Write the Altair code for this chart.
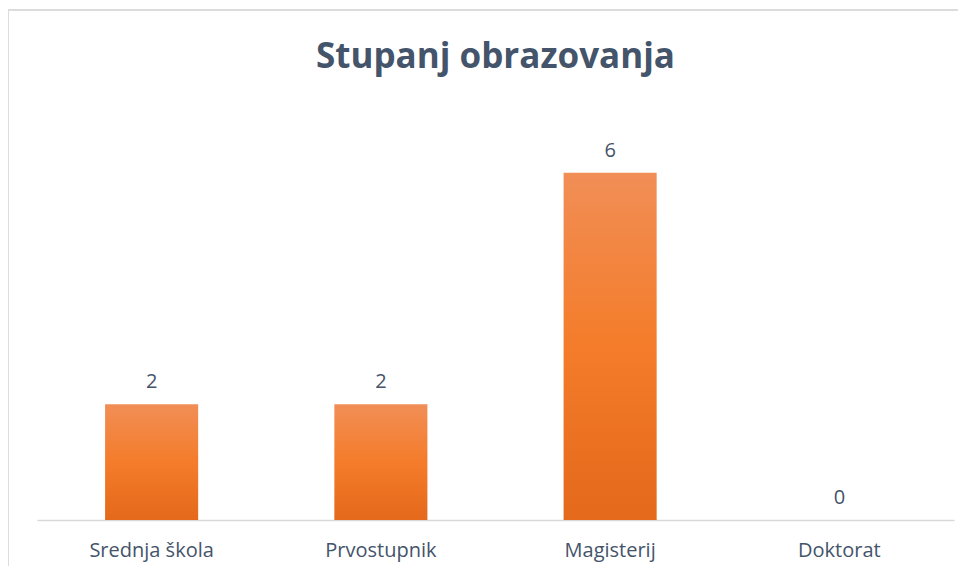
import altair as alt
import pandas as pd

categories = ["Srednja škola", "Prvostupnik", "Magisterij", "Doktorat"]
values = [2, 2, 6, 0]
title_text = ["Stupanj obrazovanja"]

df = pd.DataFrame({"kategorija": categories, "broj": values})
tdf = pd.DataFrame({"t": title_text})

FONT = "Open Sans"
TXT = "#44546A"

gradient = alt.LinearGradient(
    gradient="linear", x1=0, y1=0, x2=0, y2=1,
    stops=[
        alt.GradientStop(color="#F18E56", offset=0),
        alt.GradientStop(color="#F47C2A", offset=0.5),
        alt.GradientStop(color="#E4691B", offset=1),
    ],
)

x = alt.X("kategorija:N", sort=categories, title=None,
          scale=alt.Scale(paddingInner=0.594, paddingOuter=0.297),
          axis=alt.Axis(labelAngle=0, ticks=False, domainColor="#D9D9D9", domainWidth=1.5,
                        labelFont=FONT, labelFontSize=20, labelColor=TXT, labelPadding=20))
y = alt.Y("broj:Q", title=None, scale=alt.Scale(domain=[0, 7]), axis=None)

bars = alt.Chart(df).mark_bar(color=gradient).encode(x=x, y=y)
labels = alt.Chart(df).mark_text(font=FONT, fontSize=20, color=TXT, baseline="bottom", dy=-12).encode(
    x=alt.X("kategorija:N", sort=categories), y="broj:Q", text="broj:Q")

title = alt.Chart(tdf).mark_text(font=FONT, fontSize=35, fontWeight="bold", color=TXT,
                                 baseline="alphabetic", align="center").encode(
    x=alt.value(458.5), y=alt.value(-47), text="t:N")

border_top = alt.Chart(df).mark_rule(color="#D9D9D9", strokeWidth=1).encode(
    x=alt.value(-29), x2=alt.value(960), y=alt.value(-105))
border_left = alt.Chart(df).mark_rule(color="#D9D9D9", strokeWidth=1).encode(
    x=alt.value(-29), y=alt.value(-105), y2=alt.value(480))

chart = alt.layer(border_top, border_left, bars, labels, title).properties(
    width=917, height=405,
    autosize=alt.AutoSizeParams(type="none"),
    padding={"left": 29, "top": 107, "right": 4, "bottom": 46},
    background="white",
).configure_view(stroke=None)

chart.save("out.html", embed_options={"renderer": "svg", "actions": False})
